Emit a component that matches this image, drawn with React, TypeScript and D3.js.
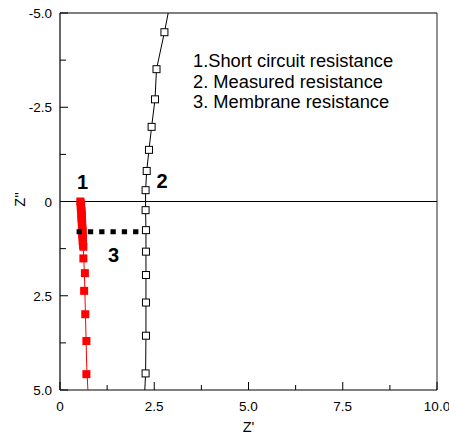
import React from "react";
import * as d3 from "d3";

const W = 449;
const H = 437;

// Axis ticks
const xMajor = [0, 2.5, 5.0, 7.5, 10.0];
const xMinor = [1.25, 3.75, 6.25, 8.75];
const xTickLabels = ["0", "2.5", "5.0", "7.5", "10.0"];
const yMajor = [-5, -2.5, 0, 2.5, 5];
const yMinor = [-3.75, -1.25, 1.25, 3.75];
const yTickLabels = ["-5.0", "-2.5", "0", "2.5", "5.0"];

// Series 2: measured resistance (open squares)
const measuredX = [2.77, 2.56, 2.52, 2.43, 2.36, 2.30, 2.27, 2.27, 2.28, 2.28, 2.28, 2.28, 2.28, 2.27];
const measuredY = [-4.49, -3.51, -2.71, -1.98, -1.37, -0.81, -0.30, 0.23, 0.76, 1.33, 1.95, 2.68, 3.56, 4.56];
// fitted line for series 2 (extends to plot edges)
const measuredLineX = [2.87, 2.77, 2.56, 2.52, 2.43, 2.36, 2.30, 2.27, 2.27, 2.28, 2.28, 2.28, 2.28, 2.28, 2.27, 2.25];
const measuredLineY = [-5.0, -4.49, -3.51, -2.71, -1.98, -1.37, -0.81, -0.30, 0.23, 0.76, 1.33, 1.95, 2.68, 3.56, 4.56, 5.0];

// Series 1: short circuit resistance (filled red squares)
const shortX = [0.54, 0.55, 0.56, 0.55, 0.56, 0.57, 0.57, 0.57, 0.58, 0.57, 0.58, 0.58, 0.59, 0.58, 0.59, 0.59, 0.6, 0.59, 0.6, 0.6, 0.61, 0.6, 0.61, 0.61, 0.62, 0.62, 0.66, 0.64, 0.67, 0.70, 0.70];
const shortY = [0.0, 0.05, 0.1, 0.15, 0.2, 0.25, 0.3, 0.35, 0.4, 0.45, 0.5, 0.55, 0.6, 0.65, 0.7, 0.75, 0.8, 0.85, 0.9, 0.95, 1.0, 1.05, 1.1, 1.15, 1.2, 1.51, 1.90, 2.37, 2.99, 3.70, 4.58];
const shortLineX = [0.55, 0.58, 0.61, 0.63, 0.65, 0.67, 0.69, 0.71, 0.74];
const shortLineY = [0.0, 0.5, 1.0, 1.5, 2.0, 2.8, 3.6, 4.4, 5.0];

// Series 3: membrane resistance (dotted segment)
const membraneX = [0.44, 2.17];
const membraneY = [0.8, 0.8];

const legendLines = ["1.Short circuit resistance", "2. Measured resistance", "3. Membrane resistance"];
const markerLabels = ["1", "2", "3"];
const markerLabelX = [0.6, 2.71, 1.42];
const markerLabelY = [-0.32, -0.35, 1.6];

const FONT = "'Liberation Sans', Arial, Helvetica, sans-serif";

export default function App() {
  const x = d3.scaleLinear().domain([0, 10]).range([60, 437]);
  const y = d3.scaleLinear().domain([-5, 5]).range([13, 390]);
  const line = d3
    .line<[number, number]>()
    .x((d) => x(d[0]))
    .y((d) => y(d[1]));

  const measuredLine = measuredLineX.map((v, i) => [v, measuredLineY[i]] as [number, number]);
  const shortLine = shortLineX.map((v, i) => [v, shortLineY[i]] as [number, number]);
  const membrane = membraneX.map((v, i) => [v, membraneY[i]] as [number, number]);

  const x0 = x(0), x1 = x(10), y0 = y(-5), y1 = y(5);

  return (
    <svg
      width={W}
      height={H}
      style={{ position: "absolute", left: 0, top: 0, background: "#fff" }}
      fontFamily={FONT}
    >
      {/* frame */}
      <line x1={x0} x2={x1} y1={y0} y2={y0} stroke="#555" strokeWidth={1.6} />
      <line x1={x1} x2={x1} y1={y0} y2={y1} stroke="#222" strokeWidth={1} />
      <line x1={x0} x2={x0} y1={y0} y2={y1} stroke="#000" strokeWidth={1.2} />
      <line x1={x0} x2={x1} y1={y1} y2={y1} stroke="#000" strokeWidth={1.2} />
      {/* zero line */}
      <line x1={x0} x2={x1} y1={y(0)} y2={y(0)} stroke="#000" strokeWidth={1} />

      {/* x ticks */}
      {xMajor.map((v) => (
        <line key={"xm" + v} x1={x(v)} x2={x(v)} y1={y1} y2={y1 - 8} stroke="#000" strokeWidth={1} />
      ))}
      {xMinor.map((v) => (
        <line key={"xn" + v} x1={x(v)} x2={x(v)} y1={y1} y2={y1 - 5} stroke="#000" strokeWidth={1} />
      ))}
      {xMajor.map((v, i) => (
        <text key={"xl" + v} x={x(v)} y={y1 + 21} textAnchor="middle" fontSize={13.5} fill="#000">
          {xTickLabels[i]}
        </text>
      ))}
      {/* y ticks */}
      {yMajor.map((v) => (
        <line key={"ym" + v} x1={x0} x2={x0 + 8} y1={y(v)} y2={y(v)} stroke="#000" strokeWidth={1} />
      ))}
      {yMinor.map((v) => (
        <line key={"yn" + v} x1={x0} x2={x0 + 6} y1={y(v)} y2={y(v)} stroke="#000" strokeWidth={1} />
      ))}
      {yMajor.map((v, i) => (
        <text key={"yl" + v} x={52} y={y(v) + 5} textAnchor="end" fontSize={13.5} fill="#000">
          {yTickLabels[i]}
        </text>
      ))}

      {/* axis titles */}
      <text x={x(5)} y={432} textAnchor="middle" fontSize={14.5} fill="#000">Z'</text>
      <text
        transform={`translate(25,${y(0) - 2}) rotate(-90)`}
        textAnchor="middle"
        fontSize={14.5}
        fill="#000"
      >
        Z''
      </text>

      {/* series 2 */}
      <path d={line(measuredLine) || ""} fill="none" stroke="#000" strokeWidth={1} />
      {measuredX.map((v, i) => (
        <rect
          key={"m" + i}
          x={x(v) - 3.5}
          y={y(measuredY[i]) - 3.5}
          width={7}
          height={7}
          fill="#fff"
          stroke="#000"
          strokeWidth={1}
        />
      ))}

      {/* series 1 */}
      <path d={line(shortLine) || ""} fill="none" stroke="#ff0000" strokeWidth={1} />
      {shortX.map((v, i) => (
        <rect
          key={"s" + i}
          x={x(v) - 4}
          y={y(shortY[i]) - 4}
          width={8}
          height={8}
          fill="#ff0000"
          stroke="none"
        />
      ))}

      {/* series 3 */}
      <path d={line(membrane) || ""} fill="none" stroke="#000" strokeWidth={5} strokeDasharray="5.3,6" />

      {/* marker labels */}
      {markerLabels.map((t, i) => (
        <text
          key={"ml" + i}
          x={x(markerLabelX[i])}
          y={y(markerLabelY[i])}
          textAnchor="middle"
          fontSize={20}
          fontWeight="bold"
          fill="#000"
        >
          {t}
        </text>
      ))}

      {/* legend text */}
      {legendLines.map((t, i) => (
        <text key={"lg" + i} x={193} y={66.7 + i * 20.8} fontSize={18.3} fill="#000">
          {t}
        </text>
      ))}
    </svg>
  );
}
